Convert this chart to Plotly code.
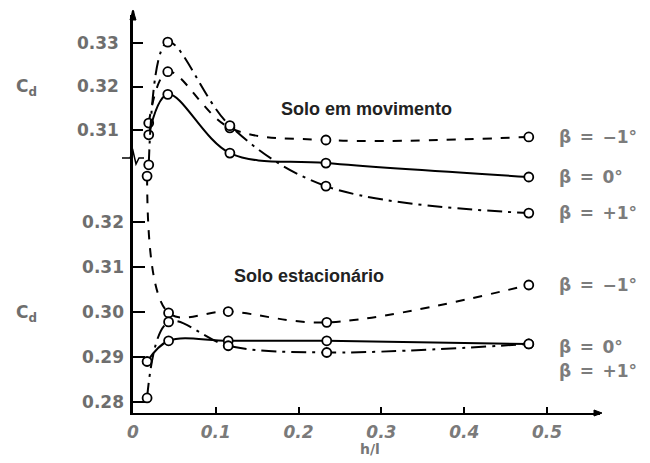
import plotly.graph_objects as go

# h/l positions of the measured points
hl_moving = [0.019, 0.042, 0.117, 0.233, 0.478]
hl_stationary = [0.017, 0.043, 0.115, 0.234, 0.478]

# Cd, moving ground (upper scale)
cd_mov_m1 = [0.3116, 0.3234, 0.3105, 0.3077, 0.3084]
cd_mov_0 = [0.3089, 0.3182, 0.3047, 0.3024, 0.2992]
cd_mov_p1 = [0.3020, 0.3302, 0.3110, 0.2971, 0.2909]

# Cd, stationary ground (lower scale)
cd_sta_m1 = [0.3302, 0.2998, 0.3001, 0.2977, 0.3060]
cd_sta_0 = [0.2890, 0.2936, 0.2936, 0.2936, 0.2929]
cd_sta_p1 = [0.2809, 0.2978, 0.2925, 0.2910, 0.2929]

beta_labels = ["β\u2002=\u2002−1°", "β\u2002=\u20020°", "β\u2002=\u2002+1°"]
upper_ticks = [0.31, 0.32, 0.33]
lower_ticks = [0.28, 0.29, 0.30, 0.31, 0.32]
x_ticks = [0, 0.1, 0.2, 0.3, 0.4, 0.5]

W, H = 650, 463
ML, MR, MT, MB = 133, 50, 15, 50
PW, PH = W - ML - MR, H - MT - MB


def px(x):
    return (x - ML) / PW


def py(y):
    return (H - MB - y) / PH


styles = ["dash", "solid", "longdashdot"]
marker = dict(symbol="circle", size=9, color="white",
              line=dict(color="black", width=1.8))

fig = go.Figure()
for vals, dash in zip([cd_mov_m1, cd_mov_0, cd_mov_p1], styles):
    fig.add_trace(go.Scatter(x=hl_moving, y=vals, mode="lines+markers",
                             line=dict(color="black", width=2, dash=dash, shape="spline", smoothing=1.0),
                             marker=marker, yaxis="y", showlegend=False))
for vals, dash in zip([cd_sta_m1, cd_sta_0, cd_sta_p1], styles):
    fig.add_trace(go.Scatter(x=hl_stationary, y=vals, mode="lines+markers",
                             line=dict(color="black", width=2, dash=dash, shape="spline", smoothing=1.0),
                             marker=marker, yaxis="y2", showlegend=False))

FONT = "DejaVu Sans, Verdana, sans-serif"
tick_font = dict(family=FONT, size=17, color="#6e6e6e", weight="bold")
xtick_font = dict(family=FONT, size=17, color="#7a7a7a", weight="bold", style="italic")

fig.update_layout(
    width=W, height=H,
    margin=dict(l=ML, r=MR, t=MT, b=MB),
    plot_bgcolor="white", paper_bgcolor="white",
    xaxis=dict(range=[0, 0.564], tickvals=x_ticks,
               ticktext=["%g" % v for v in x_ticks],
               ticks="inside", ticklen=6, tickwidth=2, tickcolor="black",
               showline=True, linecolor="black", linewidth=2,
               showgrid=False, zeroline=False, tickfont=xtick_font,
               ticklabelstandoff=3),
    yaxis=dict(range=[0.244943, 0.336437], tickvals=upper_ticks,
               ticktext=["%.2f" % v for v in upper_ticks],
               ticks="inside", ticklen=10, tickwidth=1.5, tickcolor="black",
               showline=True, linecolor="black", linewidth=2.5,
               showgrid=False, zeroline=False, tickfont=tick_font,
               ticklabelstandoff=8),
    yaxis2=dict(range=[0.277556, 0.366], tickvals=lower_ticks,
                ticktext=["%.2f" % v for v in lower_ticks],
                overlaying="y", side="left",
                ticks="inside", ticklen=12, tickwidth=1.5, tickcolor="black",
                showline=False, showgrid=False, zeroline=False,
                tickfont=tick_font, ticklabelstandoff=8),
)

label_font = dict(family=FONT, size=17, color="#7c7c7c", weight="bold")
ann = []
for lab, vals in zip(beta_labels, [cd_mov_m1, cd_mov_0, cd_mov_p1]):
    ann.append(dict(x=px(557), xref="paper", y=vals[-1], yref="y", text=lab,
                    showarrow=False, xanchor="left", yanchor="middle", font=label_font))
for lab, vals, shift in zip(beta_labels, [cd_sta_m1, cd_sta_0, cd_sta_p1], [0, -3, -27]):
    ann.append(dict(x=px(557), xref="paper", y=vals[-1], yref="y2", text=lab,
                    showarrow=False, xanchor="left", yanchor="middle", yshift=shift, font=label_font))

title_font = dict(family="Liberation Sans, Arial, sans-serif", size=18, color="#222222", weight="bold")
ann.append(dict(x=px(366), y=py(109), xref="paper", yref="paper", text="Solo em movimento",
                showarrow=False, yanchor="middle", font=title_font))
ann.append(dict(x=px(309), y=py(276), xref="paper", yref="paper", text="Solo estacionário",
                showarrow=False, yanchor="middle", font=title_font))
cd_font = dict(family=FONT, size=17, color="#6e6e6e", weight="bold")
for yy in (87, 313):
    ann.append(dict(x=px(14), y=py(yy), xref="paper", yref="paper", text="C<sub>d</sub>",
                    showarrow=False, xanchor="left", yanchor="middle", font=cd_font))
ann.append(dict(x=px(370), y=py(449), xref="paper", yref="paper", text="h/l",
                showarrow=False, yanchor="middle",
                font=dict(family=FONT, size=14, color="#777777", weight="bold")))
fig.update_layout(annotations=ann)


def path(points):
    return "M " + " L ".join("%f,%f" % (px(a), py(b)) for a, b in points)


shapes = [
    # extension of the y axis up to its arrow head
    dict(type="line", xref="paper", yref="paper", x0=0, x1=0, y0=1, y1=py(11),
         line=dict(color="black", width=2.5)),
    dict(type="path", xref="paper", yref="paper",
         path=path([(130, 20), (133, 10), (136, 20)]) + " Z",
         fillcolor="black", line=dict(color="black", width=1)),
    # arrow head on the x axis
    dict(type="path", xref="paper", yref="paper",
         path=path([(594, 410), (602, 413), (594, 416)]) + " Z",
         fillcolor="black", line=dict(color="black", width=1)),
    # axis break mark
    dict(type="path", xref="paper", yref="paper",
         path=path([(122, 158), (130, 158), (133, 151), (136, 164), (139, 158), (144, 158)]),
         line=dict(color="black", width=1.5)),
]
fig.update_layout(shapes=shapes)

fig.write_html("out.html")
